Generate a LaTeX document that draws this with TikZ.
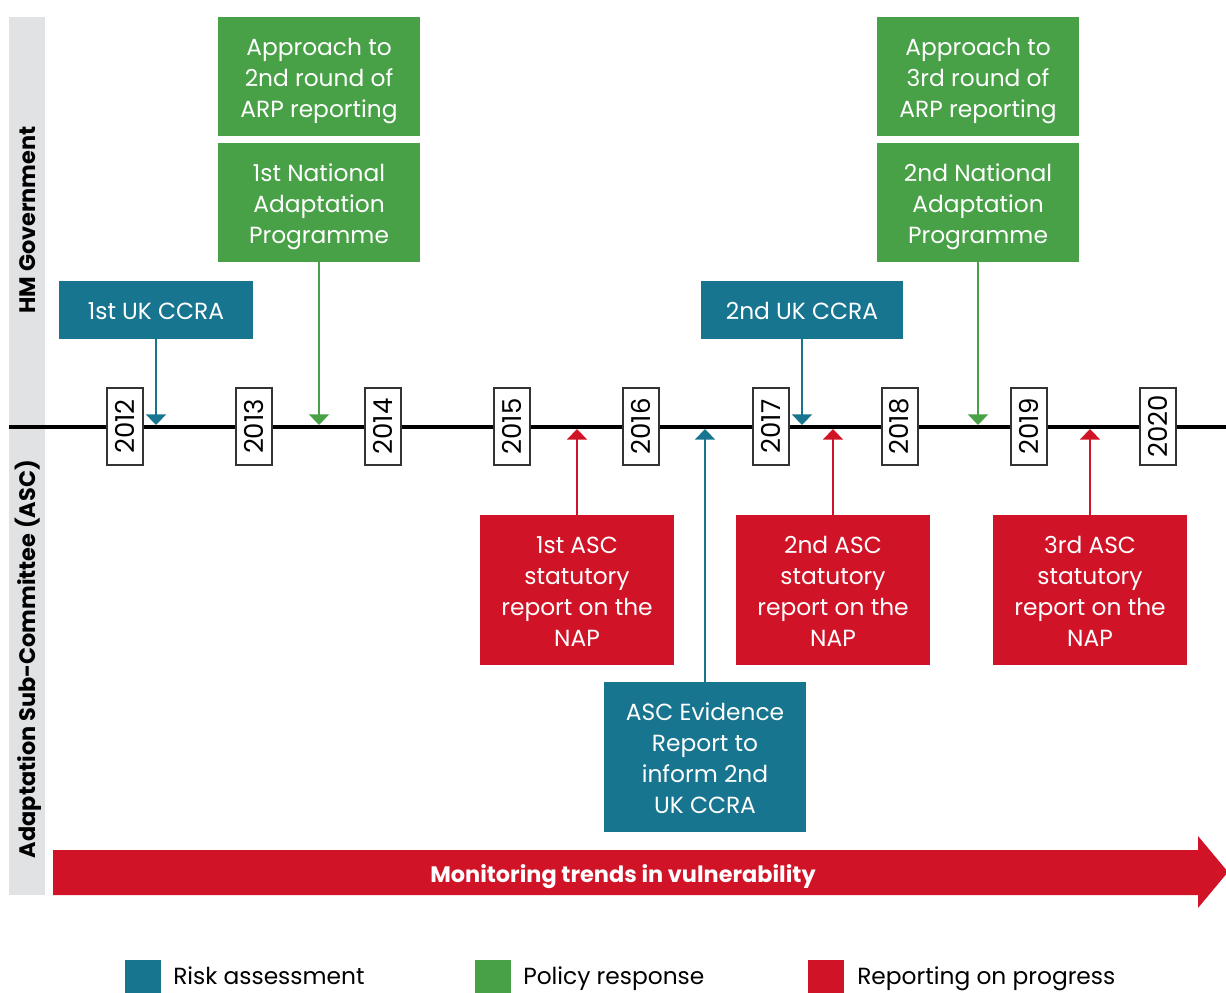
\documentclass[tikz,border=0pt]{standalone}
\usepackage{fontspec}
\setmainfont{Poppins}
\usetikzlibrary{arrows.meta}
\definecolor{riskblue}{HTML}{17758F}
\definecolor{polgreen}{HTML}{48A147}
\definecolor{repred}{HTML}{D01327}
\definecolor{sidegrey}{HTML}{E1E2E4}
\definecolor{boxline}{HTML}{333333}
\newcommand{\bxt}[1]{\raisebox{-2.5pt}[\height][\depth]{\begin{tabular}{@{}c@{}}#1\end{tabular}}}
\tikzset{
  evbox/.style={inner sep=0pt, text=white, font=\fontsize{17.5}{23.25}\selectfont},
  bluebox/.style={evbox, fill=riskblue},
  greenbox/.style={evbox, fill=polgreen, minimum width=151.5pt, minimum height=89.25pt},
  redbox/.style={evbox, fill=repred, minimum width=145.5pt, minimum height=112.5pt},
  yearbox/.style={draw=boxline, line width=1.5pt, fill=white, minimum width=57.75pt, minimum height=27pt, inner sep=0pt, rotate=90, font=\fontsize{19.5}{22}\selectfont},
  conn/.style={line width=1.5pt, -{Triangle[width=15pt,length=8pt]}},
  sidelabel/.style={rotate=90, font=\bfseries\fontsize{16.8}{20}\selectfont, text=black},
  legsq/.style={minimum width=27pt, minimum height=27pt, inner sep=0pt},
  legtext/.style={anchor=base west, font=\fontsize{17.5}{20}\selectfont, inner sep=0pt}
}
\begin{document}
\begin{tikzpicture}[x=0.75pt,y=-0.75pt]
\useasboundingbox (0,0) rectangle (1226,992);
% side bar
\fill[sidegrey] (9,17) rectangle (45,895);
\node[sidelabel] (hmg) at (28,220) {HM Government};
\node[sidelabel] (asc) at (28,659) {Adaptation Sub-Committee (ASC)};
% timeline
\coordinate (tlL) at (9,427);
\coordinate (tlR) at (1226,427);
\draw[line width=3pt] (tlL) -- (tlR);
% years
\foreach \yr [count=\i from 0] in {2012,2013,2014,2015,2016,2017,2018,2019,2020}{
  \node[yearbox] (y\yr) at ({125+129.1*\i},426.5) {\yr};
}
% arrow targets on timeline
\coordinate (t1) at (156,425);
\coordinate (t2) at (319,425);
\coordinate (t3) at (802,425);
\coordinate (t4) at (978,425);
\coordinate (r1) at (577,429);
\coordinate (r2) at (833,429);
\coordinate (r3) at (1090,429);
\coordinate (ev) at (705,429);
% government boxes
\node[bluebox, minimum width=145.5pt, minimum height=43.5pt] (ccra1) at (156,310) {\bxt{1st UK CCRA}};
\node[greenbox] (arp2) at (319,76.5) {\bxt{Approach to\\2nd round of\\ARP reporting}};
\node[greenbox] (nap1) at (319,202.5) {\bxt{1st National\\Adaptation\\Programme}};
\node[bluebox, minimum width=151.5pt, minimum height=43.5pt] (ccra2) at (802,310) {\bxt{2nd UK CCRA}};
\node[greenbox] (arp3) at (978,76.5) {\bxt{Approach to\\3rd round of\\ARP reporting}};
\node[greenbox] (nap2) at (978,202.5) {\bxt{2nd National\\Adaptation\\Programme}};
% ASC boxes
\node[redbox] (asc1) at (577,590) {\bxt{1st ASC\\statutory\\report on the\\NAP}};
\node[redbox] (asc2) at (833,590) {\bxt{2nd ASC\\statutory\\report on the\\NAP}};
\node[redbox] (asc3) at (1090,590) {\bxt{3rd ASC\\statutory\\report on the\\NAP}};
\node[bluebox, minimum width=151.5pt, minimum height=112.5pt] (evid) at (705,757) {\bxt{ASC Evidence\\Report to\\inform 2nd\\UK CCRA}};
% connectors
\draw[conn, riskblue] (ccra1.south) -- (t1);
\draw[conn, polgreen] (nap1.south) -- (t2);
\draw[conn, riskblue] (ccra2.south) -- (t3);
\draw[conn, polgreen] (nap2.south) -- (t4);
\draw[conn, repred] (asc1.north) -- (r1);
\draw[conn, repred] (asc2.north) -- (r2);
\draw[conn, repred] (asc3.north) -- (r3);
\draw[conn, riskblue] (evid.north) -- (ev);
% big arrow
\fill[repred] (53,850) -- (1198,850) -- (1198,836) -- (1228,872) -- (1198,908) -- (1198,895) -- (53,895) -- cycle;
\node[font=\bfseries\fontsize{16.8}{18}\selectfont, text=white] (mon) at (623,877) {Monitoring trends in vulnerability};
% legend
\node[legsq, fill=riskblue, anchor=north west] (lg1) at (125,960) {};
\node[legtext] (lt1) at (173,984) {Risk assessment};
\node[legsq, fill=polgreen, anchor=north west] (lg2) at (475,960) {};
\node[legtext] (lt2) at (523,984) {Policy response};
\node[legsq, fill=repred, anchor=north west] (lg3) at (808,960) {};
\node[legtext] (lt3) at (857,984) {Reporting on progress};
\end{tikzpicture}
\end{document}
